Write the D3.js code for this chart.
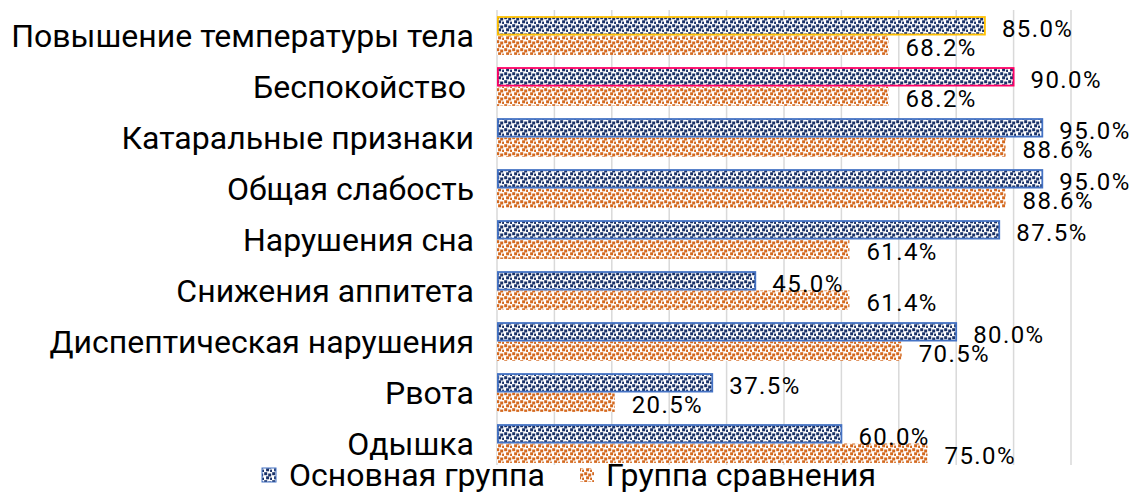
<!DOCTYPE html>
<html>
<head>
<meta charset="utf-8">
<script src="https://cdn.jsdelivr.net/npm/d3@7"></script>
<style>
  html, body { margin: 0; padding: 0; background: #fff; }
  svg { display: block; font-family: Roboto, "Noto Sans", sans-serif; }
  .cat { white-space: pre; }
</style>
</head>
<body>
<svg id="chart" width="1136" height="492"></svg>
<script>
// Symptoms, top to bottom
const categories = [
  "Повышение температуры тела",
  "Беспокойство ",
  "Катаральные признаки",
  "Общая слабость",
  "Нарушения сна",
  "Снижения аппитета",
  "Диспептическая нарушения",
  "Рвота",
  "Одышка"
];
// Share of patients, %
const mainGroup = [85.0, 90.0, 95.0, 95.0, 87.5, 45.0, 80.0, 37.5, 60.0];
const compareGroup = [68.2, 68.2, 88.6, 88.6, 61.4, 61.4, 70.5, 20.5, 75.0];
const seriesNames = ["Основная группа", "Группа сравнения"];
const xTicks = [0, 10, 20, 30, 40, 50, 60, 70, 80, 90, 100];
// Individually highlighted outlines on the main group bars
const mainOutline = ["#FFC000", "#FF0066", null, null, null, null, null, null, null];

const svg = d3.select("#chart");
const margin = { top: 10, right: 65, bottom: 23, left: 497 };
const W = 1136, H = 492;

const x = d3.scaleLinear().domain([0, 100]).range([margin.left, W - margin.right]);
const y = d3.scaleBand().domain(categories).range([margin.top, H - margin.bottom]).paddingInner(0.24).paddingOuter(0.12);
const sub = d3.scaleBand().domain([0, 1]).range([0, y.bandwidth()]);

// Confetti fill patterns
const defs = svg.append("defs");
function confetti(id, color) {
  const p = defs.append("pattern").attr("id", id)
    .attr("patternUnits", "userSpaceOnUse").attr("width", 8).attr("height", 8);
  p.append("rect").attr("width", 8).attr("height", 8).attr("fill", "#fff");
  p.selectAll("rect.s").data([[0.2, 0.2], [4.2, 1.5], [2.1, 4.3], [6.1, 5.6]]).join("rect")
    .attr("class", "s").attr("x", d => d[0]).attr("y", d => d[1])
    .attr("width", 3).attr("height", 3).attr("fill", color);
}
confetti("patMain", "#1A3268");
confetti("patComp", "#D4691F");

// Gridlines
svg.append("g").selectAll("line").data(xTicks).join("line")
  .attr("x1", d => x(d)).attr("x2", d => x(d))
  .attr("y1", margin.top).attr("y2", H - margin.bottom - 4)
  .attr("stroke", "#D9D9D9").attr("stroke-width", 1.5);

// Category labels
svg.append("g").selectAll("text").data(categories).join("text")
  .attr("class", "cat")
  .attr("x", margin.left - 23)
  .attr("y", d => y(d) + y.bandwidth() / 2 + 0.5)
  .attr("text-anchor", "end").attr("dominant-baseline", "central")
  .attr("font-size", 32).attr("fill", "#000")
  .text(d => d);

// Bars
const rows = categories.map((c, i) => ({ c, i, v: [mainGroup[i], compareGroup[i]] }));
const g = svg.append("g");
rows.forEach(r => {
  [1, 0].forEach(s => {
    const yy = y(r.c) + sub(s);
    const h = sub.bandwidth();
    const bar = g.append("rect")
      .attr("x", x(0)).attr("y", yy)
      .attr("width", x(r.v[s]) - x(0)).attr("height", h)
      .attr("fill", s === 0 ? "url(#patMain)" : "url(#patComp)");
    if (s === 0) {
      bar.attr("stroke", mainOutline[r.i] || "#4472C4").attr("stroke-width", 1.8)
        .attr("x", x(0) + 0.9).attr("width", x(r.v[s]) - x(0) - 0.9)
        .attr("y", yy + 0.9).attr("height", h - 1.8);
    }
  });
});

// Value labels
rows.forEach(r => {
  [0, 1].forEach(s => {
    g.append("text")
      .attr("x", x(r.v[s]) + 17)
      .attr("y", y(r.c) + sub(s) + sub.bandwidth() / 2 + 3)
      .attr("dominant-baseline", "central")
      .attr("font-size", 24).attr("letter-spacing", 1.4).attr("fill", "#000")
      .text(r.v[s].toFixed(1) + "%");
  });
});

// Legend
const legend = svg.append("g");
const legItems = [
  { name: seriesNames[0], fill: "url(#patMain)", stroke: "#4472C4", x: 262, tx: 289 },
  { name: seriesNames[1], fill: "url(#patComp)", stroke: null, x: 580, tx: 606 }
];
legItems.forEach(it => {
  legend.append("rect").attr("x", it.x).attr("y", 468).attr("width", 14).attr("height", 14)
    .attr("fill", it.fill).attr("stroke", it.stroke || "none").attr("stroke-width", 1);
  legend.append("text").attr("x", it.tx).attr("y", 474.5)
    .attr("dominant-baseline", "central").attr("font-size", 32).attr("fill", "#000")
    .text(it.name);
});
</script>
</body>
</html>
